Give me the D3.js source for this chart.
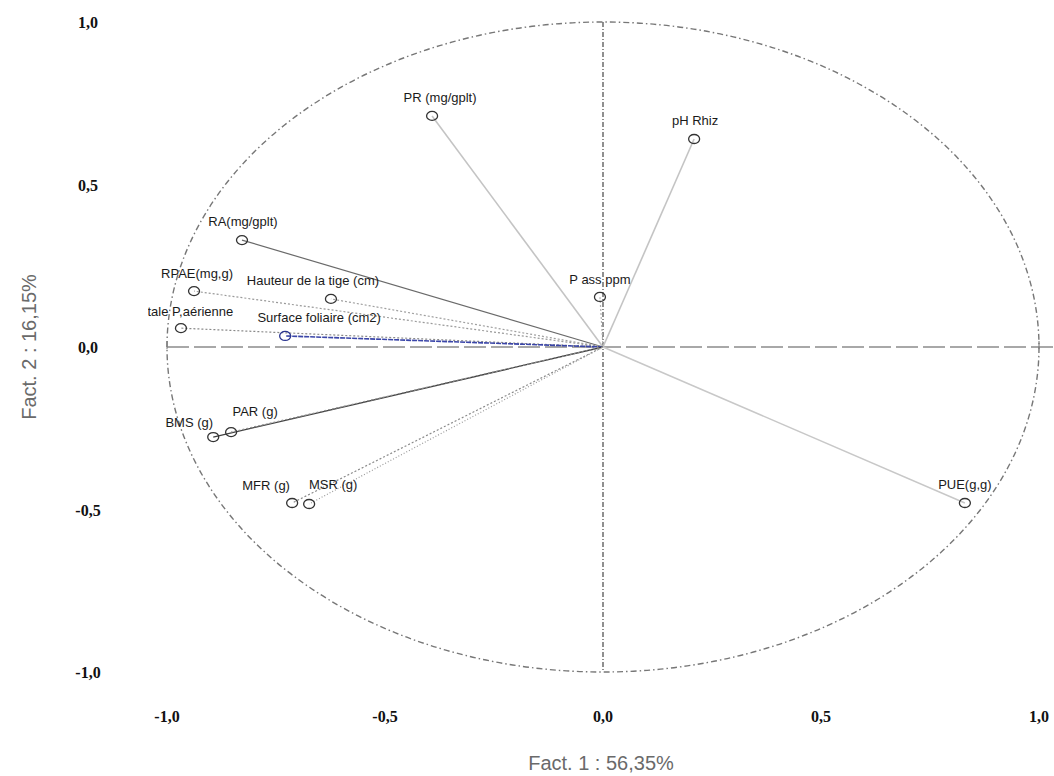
<!DOCTYPE html>
<html><head><meta charset="utf-8">
<script src="https://cdn.jsdelivr.net/npm/d3@7"></script>
<style>body{margin:0;background:#fff;}</style>
</head><body>
<svg id="c" width="1054" height="776"></svg>
<script>
// Data
const variables = ["PR (mg/gplt)","pH Rhiz","P ass ppm","RA(mg/gplt)","RPAE(mg,g)","Hauteur de la tige (cm)","P totale P,aérienne","Surface foliaire (cm2)","BMS (g)","PAR (g)","MFR (g)","MSR (g)","PUE(g,g)"];
const fact1 = [-0.392, 0.209, -0.007, -0.828, -0.938, -0.624, -0.968, -0.729, -0.894, -0.853, -0.713, -0.674, 0.830];
const fact2 = [0.711, 0.640, 0.154, 0.329, 0.172, 0.148, 0.058, 0.034, -0.277, -0.262, -0.480, -0.483, -0.480];
const ticks = [-1, -0.5, 0, 0.5, 1];
const tickLabels = ["-1,0", "-0,5", "0,0", "0,5", "1,0"];
const xTitle = "Fact. 1 : 56,35%";
const yTitle = "Fact. 2 : 16,15%";

const svg = d3.select("#c");
const x = d3.scaleLinear().domain([-1, 1]).range([167, 1039]);
const y = d3.scaleLinear().domain([-1, 1]).range([672, 22]);

// rendering styles per variable index
const lineStyle = [
  {c:"#c4c4c4", d:null, w:1.6},
  {c:"#c4c4c4", d:null, w:1.6},
  {c:"#b0b0b0", d:"2,2", w:1.2},
  {c:"#6a6a6a", d:null, w:1.2},
  {c:"#9a9a9a", d:"2,2", w:1.2},
  {c:"#a0a0a0", d:"2,2", w:1.2},
  {c:"#8a8a8a", d:"2,2", w:1.2},
  {c:"#3a45a8", d:"5,1", w:1.6},
  {c:"#404040", d:null, w:1.3},
  {c:"#8a8a8a", d:"2,2", w:1.2},
  {c:"#8a8a8a", d:"2,2", w:1.2},
  {c:"#9a9a9a", d:"1,2", w:1.2},
  {c:"#c8c8c8", d:null, w:1.5}
];
const labelDx = [8, 1, 0, 1, 3, -18, -2, 34, -24, 24, -26, 24, 0];
const labelDy = [-14, -14, -13, -14, -13, -14, -12, -14, -10, -16, -13, -15, -14];

svg.append("defs").append("clipPath").attr("id","plot")
  .append("rect").attr("x",148).attr("y",0).attr("width",906).attr("height",700);

const g = svg.append("g").attr("clip-path","url(#plot)");

// correlation circle
g.append("ellipse")
  .attr("cx", x(0)).attr("cy", y(0))
  .attr("rx", x(1) - x(0)).attr("ry", y(0) - y(1))
  .attr("fill","none").attr("stroke","#777").attr("stroke-width",1.4)
  .attr("stroke-dasharray","6,3,1.5,3");

// axes through origin
g.append("line").attr("x1", x(0)).attr("x2", x(0)).attr("y1", y(1)).attr("y2", y(-1))
  .attr("stroke","#555").attr("stroke-width",1.3).attr("stroke-dasharray","5,2,1,2");
g.append("line").attr("x1", x(-1)).attr("x2", 1054).attr("y1", y(0)).attr("y2", y(0))
  .attr("stroke","#8c8c8c").attr("stroke-width",1.5).attr("stroke-dasharray","22,5");
g.append("line").attr("x1", x(-1)).attr("x2", x(-1)).attr("y1", y(0)-6).attr("y2", y(0)+2)
  .attr("stroke","#777").attr("stroke-width",1);
g.append("line").attr("x1", x(1)).attr("x2", x(1)).attr("y1", y(0)-6).attr("y2", y(0)+2)
  .attr("stroke","#777").attr("stroke-width",1);

const idx = d3.range(variables.length);
// vectors
g.selectAll("line.vec").data(idx).join("line").attr("class","vec")
  .attr("x1", x(0)).attr("y1", y(0))
  .attr("x2", i => x(fact1[i])).attr("y2", i => y(fact2[i]))
  .attr("stroke", i => lineStyle[i].c)
  .attr("stroke-width", i => lineStyle[i].w)
  .attr("stroke-dasharray", i => lineStyle[i].d);

// points
g.selectAll("ellipse.pt").data(idx).join("ellipse").attr("class","pt")
  .attr("cx", i => x(fact1[i])).attr("cy", i => y(fact2[i]))
  .attr("rx", 5.5).attr("ry", 4.5)
  .attr("fill","none")
  .attr("stroke", i => i === 7 ? "#2a3590" : "#333")
  .attr("stroke-width", 1.3);

// labels
g.selectAll("text.lab").data(idx).join("text").attr("class","lab")
  .attr("x", i => x(fact1[i]) + labelDx[i])
  .attr("y", i => y(fact2[i]) + labelDy[i])
  .attr("text-anchor","middle")
  .attr("font-family","Liberation Sans, Arial, sans-serif")
  .attr("font-size", 13)
  .attr("fill","#1a1a1a")
  .text(i => variables[i]);

// tick labels
const tickFont = "Liberation Serif, Times New Roman, serif";
svg.selectAll("text.xt").data(ticks).join("text").attr("class","xt")
  .attr("x", d => x(d)).attr("y", 722)
  .attr("text-anchor","middle").attr("font-family", tickFont)
  .attr("font-weight","bold").attr("font-size",16).attr("fill","#111")
  .text((d,i) => tickLabels[i]);
svg.selectAll("text.yt").data(ticks).join("text").attr("class","yt")
  .attr("x", 88).attr("y", d => y(d) + 6)
  .attr("text-anchor","middle").attr("font-family", tickFont)
  .attr("font-weight","bold").attr("font-size",16).attr("fill","#111")
  .text((d,i) => tickLabels[i]);

// axis titles
svg.append("text").attr("x", 601).attr("y", 770)
  .attr("text-anchor","middle").attr("font-family","Liberation Sans, Arial, sans-serif")
  .attr("font-size",20).attr("fill","#6a6a6a").text(xTitle);
svg.append("text").attr("transform","translate(36,"+(y(0))+") rotate(-90)")
  .attr("text-anchor","middle").attr("font-family","Liberation Sans, Arial, sans-serif")
  .attr("font-size",20).attr("fill","#6a6a6a").text(yTitle);
</script>
</body></html>
